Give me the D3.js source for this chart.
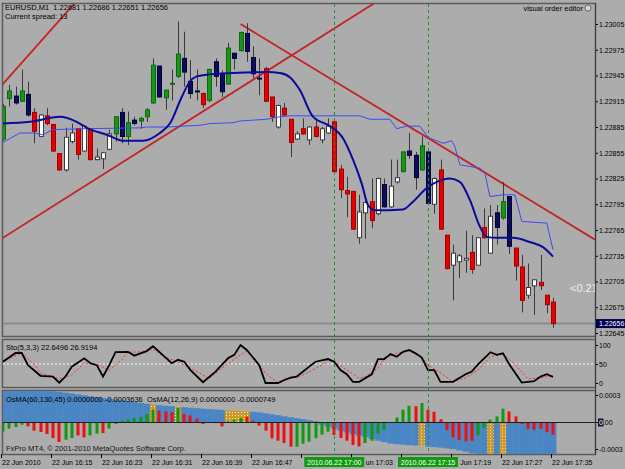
<!DOCTYPE html>
<html>
<head>
<meta charset="utf-8">
<script src="https://cdn.jsdelivr.net/npm/d3@7"></script>
<style>
  body { margin: 0; background: #acacac; }
  svg { display: block; }
  text { font-family: "Liberation Sans", Arial, sans-serif; }
</style>
</head>
<body>
<svg id="chart"></svg>
<script>
// ---- data (EURUSD M1, 22 Jun 2010 16:07 - 17:35) ----
const symbol = "EURUSD", period = "M1", spread = 13;
const startTime = new Date(2010, 5, 22, 16, 7);

const opens = [1.22871,1.22918,1.22921,1.22915,1.22923,1.22902,1.22874,1.22898,1.22888,1.22854,
  1.22835,1.22868,1.22883,1.22857,1.22883,1.22847,1.22848,1.22859,1.22877,1.22902,
  1.22874,1.22893,1.22892,1.22897,1.22913,1.22956,1.22919,1.22935,1.22944,1.22965,
  1.22938,1.22927,1.22924,1.22916,1.22961,1.22946,1.22935,1.22971,1.22974,1.22994,
  1.22966,1.22942,1.22953,1.22920,1.22885,1.22907,1.22894,1.22871,1.22883,1.22870,
  1.22885,1.22870,1.22878,1.22891,1.22836,1.22811,1.22810,1.22756,1.22785,1.22798,
  1.22784,1.22818,1.22792,1.22821,1.22833,1.22857,1.22852,1.22835,1.22856,1.22795,
  1.22835,1.22759,1.22724,1.22728,1.22730,1.22739,1.22724,1.22768,1.22738,1.22785,
  1.22779,1.22804,1.22744,1.22722,1.22689,1.22700,1.22704,1.22689,1.22681];
const highs = [1.22912,1.22934,1.22932,1.22952,1.22938,1.22907,1.22900,1.22907,1.22888,1.22854,
  1.22884,1.22889,1.22883,1.22887,1.22883,1.22860,1.22856,1.22882,1.22897,1.22907,
  1.22903,1.22897,1.22897,1.22907,1.22965,1.22956,1.22928,1.22952,1.23008,1.22996,
  1.22963,1.22952,1.22925,1.22953,1.22965,1.22951,1.22983,1.22971,1.22996,1.23006,
  1.22979,1.22965,1.22955,1.22920,1.22911,1.22913,1.22894,1.22880,1.22895,1.22886,
  1.22895,1.22885,1.22895,1.22893,1.22841,1.22827,1.22810,1.22806,1.22802,1.22825,
  1.22826,1.22825,1.22847,1.22847,1.22856,1.22878,1.22856,1.22874,1.22856,1.22826,
  1.22847,1.22759,1.22748,1.22737,1.22764,1.22759,1.22756,1.22790,1.22794,1.22794,
  1.22821,1.22804,1.22744,1.22736,1.22726,1.22707,1.22736,1.22689,1.22686];
const lows = [1.22869,1.22909,1.22911,1.22914,1.22897,1.22866,1.22873,1.22887,1.22856,1.22834,
  1.22833,1.22866,1.22847,1.22856,1.22846,1.22846,1.22836,1.22858,1.22868,1.22866,
  1.22864,1.22887,1.22883,1.22891,1.22912,1.22919,1.22905,1.22916,1.22942,1.22932,
  1.22918,1.22916,1.22907,1.22914,1.22932,1.22920,1.22934,1.22952,1.22973,1.22961,
  1.22942,1.22922,1.22914,1.22891,1.22883,1.22898,1.22850,1.22870,1.22876,1.22864,
  1.22873,1.22866,1.22877,1.22832,1.22802,1.22780,1.22765,1.22749,1.22755,1.22767,
  1.22782,1.22791,1.22791,1.22819,1.22832,1.22848,1.22812,1.22834,1.22795,1.22784,
  1.22765,1.22719,1.22683,1.22709,1.22715,1.22714,1.22723,1.22755,1.22737,1.22748,
  1.22777,1.22737,1.22706,1.22669,1.22685,1.22666,1.22695,1.22668,1.22651];
const closes = [1.22909,1.22927,1.22913,1.22927,1.22899,1.22880,1.22899,1.22889,1.22857,1.22835,
  1.22873,1.22878,1.22853,1.22886,1.22847,1.22850,1.22855,1.22877,1.22897,1.22874,
  1.22890,1.22889,1.22895,1.22905,1.22957,1.22920,1.22928,1.22936,1.22970,1.22949,
  1.22924,1.22926,1.22911,1.22952,1.22944,1.22926,1.22977,1.22965,1.22995,1.22973,
  1.22947,1.22941,1.22915,1.22897,1.22910,1.22899,1.22867,1.22877,1.22877,1.22885,
  1.22874,1.22883,1.22886,1.22833,1.22812,1.22807,1.22766,1.22786,1.22797,1.22776,
  1.22825,1.22792,1.22816,1.22826,1.22856,1.22852,1.22826,1.22863,1.22796,1.22825,
  1.22766,1.22720,1.22738,1.22735,1.22732,1.22719,1.22756,1.22756,1.22781,1.22768,
  1.22798,1.22746,1.22723,1.22683,1.22698,1.22707,1.22700,1.22678,1.22656];
// 1 = bar painted by the trend indicator (green / navy), 0 = plain (white / red)
const trendState = [1,1,1,1,1,0,0,0,0,0, 0,0,0,0,0,0,0,0,1,1, 1,1,1,1,1,1,1,1,1,1,
  1,1,0,1,1,1,1,1,1,1, 1,1,0,0,0,0,0,0,0,0, 0,0,0,0,0,0,0,0,0,0,
  0,1,0,0,1,1,1,1,1,0, 0,0,0,0,0,0,0,0,0,1, 1,1,0,0,0,0,0,0,0];

// moving averages as [bar, price]
const maSlow = [[0,1.22889],[4.3,1.22891],[9.1,1.22897],[11.8,1.22891],[13.4,1.22884],[16.6,1.22876],
  [19.2,1.22869],[22.4,1.22869],[25.1,1.22878],[26.7,1.22889],[28.6,1.22920],[29.9,1.22938],
  [31,1.22944],[32.6,1.22946],[36.8,1.22948],[42.2,1.22949],[44.3,1.22948],[45.9,1.22943],
  [47.5,1.22928],[49.6,1.22897],[52.3,1.22886],[54.4,1.22872],[56,1.22847],[57.4,1.22819],
  [58.4,1.22794],[59.5,1.22788],[64,1.22789],[65.6,1.22798],[67.8,1.22814],[69.4,1.22821],
  [71.5,1.22825],[73.1,1.22821],[74.7,1.22800],[76.3,1.22769],[77.4,1.22757],[79,1.22756],
  [81.6,1.22756],[84.3,1.22751],[86.4,1.22745],[88,1.22734]];
const maBand = [[0,1.22867],[2.7,1.22878],[4.8,1.22878],[6.4,1.22876],[8,1.22882],[12.8,1.22883],
  [21.9,1.22884],[23,1.22885],[26.2,1.22885],[31.5,1.22887],[33.1,1.22889],[36.8,1.22890],
  [37.9,1.22892],[42.2,1.22894],[44.3,1.22897],[45.9,1.22898],[57.1,1.22898],[58.7,1.22894],
  [61.9,1.22894],[63,1.22883],[64.6,1.22886],[66.7,1.22886],[68,1.22873],[70.4,1.22866],
  [71.8,1.22869],[72.3,1.22862],[73.1,1.22841],[76.3,1.22837],[77.1,1.22831],[77.9,1.22804],
  [80,1.22806],[81.9,1.22806],[83,1.22775],[87,1.22773],[88,1.22742]];

// trend lines: two anchors [bar, price]; ray = extend to the right only
const trendLines = [
  { a: [-0.16, 1.22934], b: [9.12, 1.23010], ray: false },
  { a: [0, 1.22756], b: [55, 1.23009], ray: false },
  { a: [38, 1.23005], b: [80, 1.22819], ray: true }
];
const vLineBars = [53, 68];
const bidPrice = 1.22656;

// Stochastic(5,3,3) as [bar, value]
const stoK = [[0,56],[2,79],[3,79],[4,47],[6,19],[8,17],[9,1],[10,17],[11,43],[13,65],[14,52],[15,47],
  [16,17],[17,47],[18,81],[20,82],[21,72],[22,78],[23,84],[24,97],[25,82],[27,52],[28,61],[29,56],
  [30,34],[32,2],[34,30],[36,65],[37,74],[38,100],[39,87],[41,47],[42,0],[44,0],[45,8],[46,14],
  [47,17],[49,43],[50,56],[52,63],[53,56],[54,34],[55,23],[56,3],[57,3],[59,23],[60,63],[61,63],
  [62,76],[63,69],[64,82],[65,87],[66,78],[67,67],[68,34],[69,34],[70,3],[72,3],[74,23],[75,30],
  [76,49],[78,81],[79,74],[80,78],[81,49],[83,1],[85,5],[86,17],[87,23],[88,16]];
const stoD = [[0,58],[3,79],[5,49],[6,26],[9,11],[11,21],[13,52],[15,49],[17,34],[19,61],[20,81],
  [22,82],[24,89],[26,67],[28,56],[30,39],[33,12],[35,39],[37,63],[39,84],[40,69],[42,26],[44,0],
  [46,12],[48,21],[51,47],[52,61],[54,46],[57,12],[58,17],[60,39],[61,65],[63,78],[65,84],[67,69],
  [68,47],[70,26],[72,3],[74,14],[76,34],[78,69],[80,78],[82,47],[84,11],[86,14],[88,20]];
const stoLevels = [50];

// OsMA(60,130,45) per bar, in units of 1e-6
const osmaSlow = [381,376,370,364,359,356,351,348,342,334, 326,317,307,297,287,277,267,259,250,241,
  232,223,212,202,192,187,181,176,170,164, 159,153,148,143,139,134,130,126,121,118,
  114,106,97,86,76,64,53,42,31,20, 9,-30,-52,-74,-97,-117,-136,-152,-169,-188,
  -208,-224,-241,-247,-252,-258,-263,-269,-274,-280, -286,-293,-302,-317,-330,-347,-356,-359,-361,-362,
  -363,-363,-363,-364,-364,-364,-364,-364,-364];
const osmaSignalBars = [24, 28, 36, 37, 38, 39, 67, 78, 80];
// OsMA(12,26,9) per bar, in units of 1e-6, and its up/down colouring
const osmaFast = [-104,-74,-56,-30,-49,-97,-111,-133,-178,-222, -197,-178,-149,-171,-149,-130,-122,-74,-22,14,
  26,44,56,89,137,126,118,111,156,89, 73,37,-22,-8,-13,-49,9,26,44,59,
  14,-41,-97,-182,-208,-233,-274,-274,-241,-219, -180,-141,-108,-144,-178,-208,-256,-271,-233,-208,
  -130,-88,-8,51,137,181,176,211,137,114, 31,-91,-171,-197,-216,-208,-149,-67,26,62,
  148,118,62,-22,-74,-86,-74,-111,-141];
const osmaFastUp = [1,1,1,1,0,0,0,0,0,0, 1,1,0,0,1,1,0,1,1,1, 1,1,1,1,1,0,0,0,1,0,
  0,0,0,0,0,0,1,1,1,0, 0,0,0,0,0,0,0,1,1,1, 1,1,1,0,0,0,0,0,1,1,
  1,1,1,1,1,1,0,1,0,0, 0,0,0,0,0,0,1,1,1,1, 1,0,0,0,0,0,0,0,0];

const priceTicks = [1.22645,1.22675,1.22705,1.22735,1.22765,1.22795,1.22825,1.22855,1.22885,1.22915,1.22945,1.22975,1.23005];
const stoTicks = [0, 50, 100];
const osmaTicks = [-0.0003, 0, 0.0003];
const osmaTickLabels = ["-0.0003", "0.00", "0.0003"];
const timeTickBars = [0, 8, 16, 24, 32, 40, 48, 56, 64, 72, 80, 88];

// ---- layout ----
const W = 625, H = 469;
const left = 3, right = 595;
const mainTop = 4, mainBottom = 336;
const stoTop = 340, stoBottom = 387;
const osTop = 391, osBottom = 454;

const svg = d3.select("#chart").attr("width", W).attr("height", H)
  .style("background", "#acacac");

const x = d3.scaleLinear().domain([0, 88]).range([3, 553]);
const y = d3.scaleLinear().domain([1.22645, 1.23005]).range([333, 24]);
const ySto = d3.scaleLinear().domain([0, 100]).range([383, 345]);
const yOs = d3.scaleLinear().domain([-0.0003, 0.0003]).range([449, 395]);
const barW = x(1) - x(0);
const px = v => Math.round(v) + 0.5;
const barTime = b => d3.timeMinute.offset(startTime, b);

const defs = svg.append("defs");
[["clipMain", mainTop, mainBottom], ["clipSto", stoTop, stoBottom], ["clipOs", osTop, osBottom]]
  .forEach(([id, t, b]) => defs.append("clipPath").attr("id", id)
    .append("rect").attr("x", left).attr("y", t).attr("width", right - left).attr("height", b - t));
const pat = defs.append("pattern").attr("id", "gold").attr("width", 3).attr("height", 3)
  .attr("patternUnits", "userSpaceOnUse");
pat.append("rect").attr("width", 3).attr("height", 3).attr("fill", "#cf9a2a");
pat.append("rect").attr("x", 1).attr("y", 1).attr("width", 1).attr("height", 1).attr("fill", "#f3e4b4");

// panel frames
[[mainTop, mainBottom], [stoTop, stoBottom], [osTop, osBottom]].forEach(([t, b]) => {
  svg.append("rect").attr("x", left - 0.5).attr("y", t - 0.5)
    .attr("width", right - left + 1).attr("height", b - t + 1)
    .attr("fill", "none").attr("stroke", "#5c5c5c").attr("stroke-width", 1.5);
});

// ---- main panel ----
const main = svg.append("g").attr("clip-path", "url(#clipMain)");

// bid line
main.append("line").attr("x1", left).attr("x2", right)
  .attr("y1", y(bidPrice)).attr("y2", y(bidPrice))
  .attr("stroke", "#8c8c8c").attr("stroke-width", 2);

// trend lines
main.append("g").selectAll("line").data(trendLines).join("line")
  .each(function (d) {
    const slope = (d.b[1] - d.a[1]) / (d.b[0] - d.a[0]);
    const b0 = d.ray ? d.a[0] : -20, b1 = 120;
    d3.select(this)
      .attr("x1", x(b0)).attr("y1", y(d.a[1] + slope * (b0 - d.a[0])))
      .attr("x2", x(b1)).attr("y2", y(d.a[1] + slope * (b1 - d.a[0])));
  })
  .attr("stroke", "#c42424").attr("stroke-width", 1.8);

// candles
const bars = d3.range(opens.length).map(i => ({
  i, o: opens[i], h: highs[i], l: lows[i], c: closes[i], t: trendState[i]
}));
const candleFill = d => d.t ? (d.c >= d.o ? "#17961a" : "#0c0c5c") : (d.c >= d.o ? "#ffffff" : "#e80000");
const candleStroke = d => d.t ? (d.c >= d.o ? "#0b6a0b" : "#000038") : (d.c >= d.o ? "#3c3c3c" : "#a00000");

const candles = main.append("g").selectAll("g").data(bars).join("g");
candles.append("line")
  .attr("x1", d => px(x(d.i))).attr("x2", d => px(x(d.i)))
  .attr("y1", d => y(d.h)).attr("y2", d => y(d.l))
  .attr("stroke", "#3a3a3a");
candles.append("rect")
  .attr("x", d => px(x(d.i)) - 2)
  .attr("width", 4)
  .attr("y", d => y(Math.max(d.o, d.c)))
  .attr("height", d => Math.max(1, y(Math.min(d.o, d.c)) - y(Math.max(d.o, d.c))))
  .attr("fill", candleFill).attr("stroke", candleStroke).attr("stroke-width", 1);

// moving averages
main.append("path").datum(maBand)
  .attr("d", d3.line().x(d => x(d[0])).y(d => y(d[1])))
  .attr("fill", "none").attr("stroke", "#3a4cf6").attr("stroke-width", 1);
main.append("path").datum(maSlow)
  .attr("d", d3.line().curve(d3.curveMonotoneX).x(d => x(d[0])).y(d => y(d[1])))
  .attr("fill", "none").attr("stroke", "#0a0a9c").attr("stroke-width", 2);

// distance label, cut by the right edge of the panel
main.append("text").attr("x", 570).attr("y", 292)
  .attr("font-size", 11).attr("fill", "#f2f2f2").text("<0.21");

// header
svg.append("text").attr("x", 5).attr("y", 10).attr("font-size", 7.5).attr("fill", "#000")
  .attr("xml:space", "preserve")
  .text(`${symbol},${period}  ${[opens, highs, lows, closes].map(a => a[a.length - 1].toFixed(5)).join(" ")}`);
svg.append("text").attr("x", 5).attr("y", 19).attr("font-size", 7.5).attr("fill", "#000")
  .text(`Current spread: ${spread}`);
svg.append("text").attr("x", 583).attr("y", 11).attr("font-size", 7.5).attr("fill", "#000")
  .attr("text-anchor", "end").text("visual order editor");
svg.append("circle").attr("cx", 588).attr("cy", 8).attr("r", 3)
  .attr("fill", "#d4d4d4").attr("stroke", "#5a5a5a").attr("stroke-width", 0.8);

// price axis
const priceAxis = svg.append("g").attr("transform", `translate(${right},0)`)
  .call(d3.axisRight(y).tickValues(priceTicks).tickSize(3).tickPadding(1).tickFormat(d3.format(".5f")));
priceAxis.select(".domain").remove();
priceAxis.selectAll("text").attr("font-size", 7).attr("fill", "#000").attr("font-family", null);
priceAxis.selectAll("line").attr("stroke", "#000");
// bid price box
svg.append("rect").attr("x", right + 1).attr("y", y(bidPrice) - 4.5).attr("width", 30).attr("height", 9)
  .attr("fill", "#000050");
svg.append("text").attr("x", right + 4).attr("y", y(bidPrice) + 2.5)
  .attr("font-size", 7).attr("fill", "#fff").text(bidPrice.toFixed(5));

// ---- stochastic panel ----
const sto = svg.append("g").attr("clip-path", "url(#clipSto)");
sto.selectAll(".lvl").data(stoLevels).join("line")
  .attr("x1", left).attr("x2", right).attr("y1", d => ySto(d)).attr("y2", d => ySto(d))
  .attr("stroke", "#ffffff").attr("stroke-dasharray", "2,2");
sto.append("path").datum(stoD)
  .attr("d", d3.line().x(d => x(d[0])).y(d => ySto(d[1])))
  .attr("fill", "none").attr("stroke", "#ff2a2a").attr("stroke-dasharray", "2,2");
sto.append("path").datum(stoK)
  .attr("d", d3.line().x(d => x(d[0])).y(d => ySto(d[1])))
  .attr("fill", "none").attr("stroke", "#000").attr("stroke-width", 1.8);
svg.append("text").attr("x", 6).attr("y", 350).attr("font-size", 7.5).attr("fill", "#000")
  .text("Sto(5,3,3) 22.6496 26.9194");
const stoAxis = svg.append("g").attr("transform", `translate(${right},0)`)
  .call(d3.axisRight(ySto).tickValues(stoTicks).tickSize(3).tickPadding(1));
stoAxis.select(".domain").remove();
stoAxis.selectAll("text").attr("font-size", 7).attr("fill", "#000").attr("font-family", null);
stoAxis.selectAll("line").attr("stroke", "#000");

// ---- OsMA panel ----
const os = svg.append("g").attr("clip-path", "url(#clipOs)");
const isSignal = new Set(osmaSignalBars);
os.append("g").selectAll("rect").data(osmaSlow.map((v, i) => ({ i, v: v * 1e-6 }))).join("rect")
  .attr("x", d => x(d.i) - barW / 2).attr("width", barW + 0.3)
  .attr("y", d => yOs(Math.max(0, d.v)))
  .attr("height", d => Math.abs(yOs(d.v) - yOs(0)))
  .attr("fill", d => isSignal.has(d.i) ? "url(#gold)" : "#4a86c4");
os.append("g").selectAll("rect").data(osmaFast.map((v, i) => ({ i, v: v * 1e-6, up: osmaFastUp[i] }))).join("rect")
  .attr("x", d => Math.round(x(d.i)) - 1.5).attr("width", 3)
  .attr("y", d => yOs(Math.max(0, d.v)))
  .attr("height", d => Math.max(1, Math.abs(yOs(d.v) - yOs(0))))
  .attr("fill", d => d.up ? "#0f9a0f" : "#ee1010");
os.append("line").attr("x1", left).attr("x2", right).attr("y1", px(yOs(0))).attr("y2", px(yOs(0)))
  .attr("stroke", "#1e1e1e");
svg.append("text").attr("x", 6).attr("y", 402).attr("font-size", 7.5).attr("fill", "#000")
  .attr("xml:space", "preserve")
  .text("OsMA(60,130,45) 0.0000000 -0.0003636  OsMA(12,26,9) 0.0000000 -0.0000749");
svg.append("text").attr("x", 6).attr("y", 451).attr("font-size", 7.5).attr("fill", "#111")
  .text("FxPro MT4, © 2001-2010 MetaQuotes Software Corp.");
const osAxis = svg.append("g").attr("transform", `translate(${right},0)`)
  .call(d3.axisRight(yOs).tickValues(osmaTicks).tickSize(3).tickPadding(1)
    .tickFormat((d, i) => osmaTickLabels[i]));
osAxis.select(".domain").remove();
osAxis.selectAll("text").attr("font-size", 7).attr("fill", "#000").attr("font-family", null);
osAxis.selectAll("line").attr("stroke", "#000");
// current-value marker: the leading "0" of the zero label sits in a dark box
const zeroTick = osAxis.selectAll(".tick").filter(d => d === 0);
const zeroLabel = osmaTickLabels[osmaTicks.indexOf(0)];
zeroTick.select("text").text(null)
  .call(t => t.append("tspan").attr("fill", "#fff").text(zeroLabel.slice(0, 1)))
  .call(t => t.append("tspan").text(zeroLabel.slice(1)));
zeroTick.insert("rect", "text").attr("x", 3).attr("y", -4).attr("width", 5.5).attr("height", 8)
  .attr("fill", "#101030");

// right axis line
svg.append("line").attr("x1", right + 0.5).attr("x2", right + 0.5).attr("y1", mainTop - 1).attr("y2", osBottom + 1)
  .attr("stroke", "#3c3c3c");

// vertical event lines through all panels
svg.append("g").selectAll("line").data(vLineBars).join("line")
  .attr("x1", d => px(x(d))).attr("x2", d => px(x(d)))
  .attr("y1", mainTop).attr("y2", osBottom)
  .attr("stroke", "#2f8a2f").attr("stroke-dasharray", "3,3");

// ---- time axis ----
const fmtTime = d3.timeFormat("%d %b %H:%M");
const fmtStamp = d3.timeFormat("%Y.%m.%d %H:%M");
const stampBoxes = vLineBars.map(b => [x(b) - 30, x(b) + 30]);
const timeAxis = svg.append("g");
timeAxis.selectAll("line").data(timeTickBars).join("line")
  .attr("x1", d => px(x(d) - 2)).attr("x2", d => px(x(d) - 2))
  .attr("y1", osBottom).attr("y2", osBottom + 4).attr("stroke", "#000");
timeAxis.selectAll("text").data(timeTickBars).join("text")
  .attr("x", d => x(d) - 1).attr("y", 465).attr("font-size", 7).attr("fill", "#000")
  .text(d => d === 0 ? d3.timeFormat("%d %b %Y")(barTime(d)) : fmtTime(barTime(d)))
  .each(function () {
    // a vertical line's stamp hides the part of a label that lies under it
    const t = d3.select(this);
    const x0 = +t.attr("x");
    const len = this.getComputedTextLength();
    const box = stampBoxes.find(([a, b]) => x0 < b && x0 + len > a);
    if (!box) return;
    if (x0 + len <= box[1] + 1) { t.remove(); return; }
    const full = t.text();
    let cut = 0;
    while (cut < full.length && x0 + this.getSubStringLength(0, cut) < box[1] - 0.5) cut++;
    t.attr("x", x0 + this.getSubStringLength(0, cut) + 0.5).text(full.slice(cut));
  });

const stamps = svg.append("g").selectAll("g").data(vLineBars).join("g");
stamps.append("rect").attr("x", d => x(d) - 30).attr("y", 457).attr("width", 60).attr("height", 10)
  .attr("fill", "#119a11");
stamps.append("text").attr("x", d => x(d)).attr("y", 465).attr("text-anchor", "middle")
  .attr("font-size", 7).attr("fill", "#fff").text(d => fmtStamp(barTime(d)));
</script>
</body>
</html>
